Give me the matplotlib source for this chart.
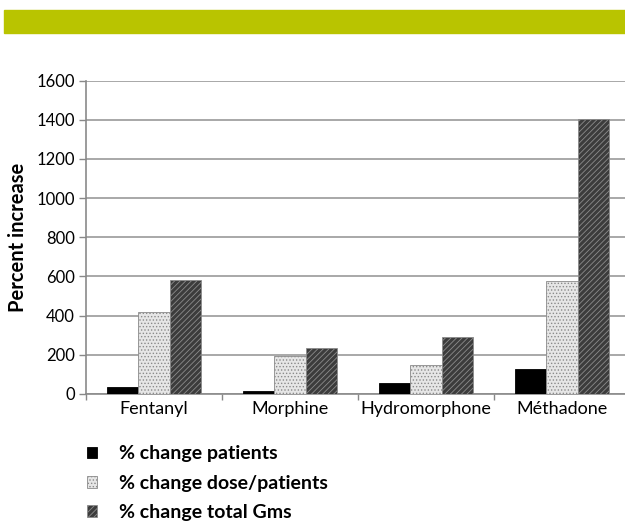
import numpy as np
import matplotlib
matplotlib.use("Agg")
import matplotlib.pyplot as plt
from matplotlib.patches import Rectangle, Patch

plt.rcParams["font.family"] = ["Lato", "DejaVu Sans"]
plt.rcParams["hatch.linewidth"] = 0.6

# Percent increase per opioid
drugs = ["Fentanyl", "Morphine", "Hydromorphone", "Méthadone"]
pct_patients = [34, 15, 58, 126]
pct_dose_per_patient = [420, 195, 148, 576]
pct_total_gms = [583, 233, 292, 1402]
series_labels = ["% change patients", "% change dose/patients", "% change total Gms"]
y_ticks = [0, 200, 400, 600, 800, 1000, 1200, 1400, 1600]

fig = plt.figure(figsize=(6.25, 5.24), dpi=100)

# green header band
fig.patches.append(Rectangle((4 / 625, 1 - 33 / 524), 1, 23 / 524,
                             transform=fig.transFigure, color="#b9c400", zorder=0))

ax = fig.add_axes([86 / 625, 130 / 524, 544 / 625, 313.5 / 524])

x = np.arange(len(drugs))
w = 0.228
styles = [
    dict(facecolor="black", edgecolor="black", hatch=None),
    dict(facecolor="#e6e6e6", edgecolor="#8a8a8a", hatch="....."),
    dict(facecolor="#3c3c3c", edgecolor="#8c8c8c", hatch="//////"),
]
data = [pct_patients, pct_dose_per_patient, pct_total_gms]
handles = []
for i, (vals, st) in enumerate(zip(data, styles)):
    ax.bar(x + (i - 1) * w, vals, width=w, linewidth=0.6, zorder=3, **st)
    handles.append(Patch(label=series_labels[i], linewidth=0.6, **st))

ax.set_xlim(-0.5, len(drugs) - 0.5)
ax.set_ylim(0, 1600)
ax.set_yticks(y_ticks)
ax.set_yticklabels([str(v) for v in y_ticks], fontsize=12)
ax.set_xticks(x)
ax.set_xticklabels(drugs, fontsize=13)
ax.set_xticks(np.arange(len(drugs) + 1) - 0.5, minor=True)
ax.tick_params(axis="x", which="major", length=0, pad=5)
ax.tick_params(axis="x", which="minor", length=4, color="#888888", width=1)
ax.tick_params(axis="y", length=5, color="#888888", width=1, pad=3)

ax.yaxis.grid(True, color="#a8a8a8", linewidth=1.4, zorder=0)
ax.set_axisbelow(True)
for side in ["top", "right"]:
    ax.spines[side].set_visible(False)
for side in ["left", "bottom"]:
    ax.spines[side].set_color("#8a8a8a")
    ax.spines[side].set_linewidth(1.2)

ax.set_ylabel("Percent increase", fontsize=14.5, fontweight="bold", labelpad=6)

fig.legend(handles=handles, loc="upper left", bbox_to_anchor=(69 / 625, 1 - 428 / 524),
           frameon=False, prop=dict(size=14, weight="bold"),
           handlelength=0.55, handleheight=0.55, handletextpad=1.1, labelspacing=0.62)

fig.savefig("out.png", dpi=100)
